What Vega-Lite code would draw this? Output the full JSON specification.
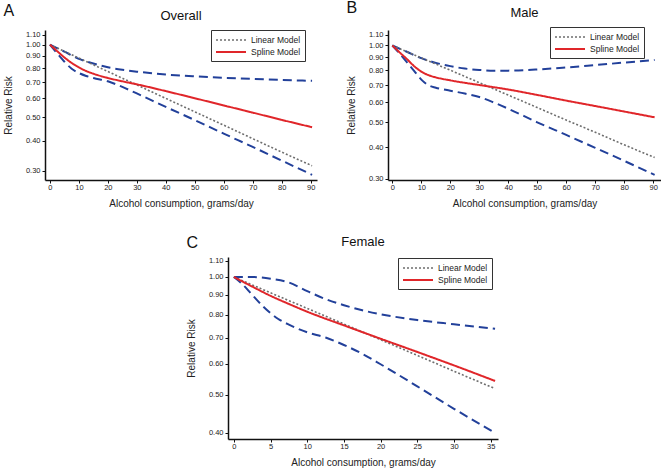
{
  "$schema": "https://vega.github.io/schema/vega-lite/v6.json",
  "padding": {"left": 3, "top": -1, "right": 0, "bottom": 0},
  "config": {
    "font": "Liberation Sans",
    "view": {"stroke": null},
    "axis": {"grid": false, "domainColor": "#111", "domainWidth": 1.5, "tickColor": "#111", "tickSize": 3, "tickWidth": 1, "labelFontSize": 7.5, "labelColor": "#222", "labelPadding": 2, "labelOverlap": false, "labelSeparation": 0, "titleFontSize": 10, "titleFontWeight": "normal", "titleColor": "#222"},
    "axisY": {"titlePadding": 12},
    "axisX": {"titlePadding": 8, "labelPadding": 0},
    "title": {"fontWeight": "normal", "color": "#111"},
    "legend": {"title": null, "strokeColor": "#333", "fillColor": "#fff", "padding": 4, "symbolType": "M-1,0H5", "symbolSize": 100, "symbolStrokeWidth": 2, "labelFontSize": 8.5, "labelOffset": 24, "rowPadding": 1, "labelColor": "#222"}
  },
  "datasets": {
    "overall": [
      {"x": 0, "rr": 1.0, "series": "Linear Model"}, {"x": 10, "rr": 0.88, "series": "Linear Model"}, {"x": 20, "rr": 0.774, "series": "Linear Model"}, {"x": 30, "rr": 0.681, "series": "Linear Model"}, {"x": 40, "rr": 0.599, "series": "Linear Model"}, {"x": 50, "rr": 0.527, "series": "Linear Model"}, {"x": 60, "rr": 0.464, "series": "Linear Model"}, {"x": 70, "rr": 0.408, "series": "Linear Model"}, {"x": 80, "rr": 0.359, "series": "Linear Model"}, {"x": 90.5, "rr": 0.315, "series": "Linear Model"},
      {"x": 0, "rr": 1.0, "series": "Spline Model"}, {"x": 2.5, "rr": 0.94, "series": "Spline Model"}, {"x": 5, "rr": 0.885, "series": "Spline Model"}, {"x": 7.5, "rr": 0.84, "series": "Spline Model"}, {"x": 10, "rr": 0.805, "series": "Spline Model"}, {"x": 12.5, "rr": 0.778, "series": "Spline Model"}, {"x": 15, "rr": 0.758, "series": "Spline Model"}, {"x": 20, "rr": 0.728, "series": "Spline Model"}, {"x": 25, "rr": 0.705, "series": "Spline Model"}, {"x": 30, "rr": 0.685, "series": "Spline Model"}, {"x": 40, "rr": 0.642, "series": "Spline Model"}, {"x": 50, "rr": 0.6, "series": "Spline Model"}, {"x": 60, "rr": 0.56, "series": "Spline Model"}, {"x": 70, "rr": 0.523, "series": "Spline Model"}, {"x": 80, "rr": 0.488, "series": "Spline Model"}, {"x": 90.5, "rr": 0.455, "series": "Spline Model"},
      {"x": 0, "rr": 1.0, "series": "Upper"}, {"x": 5, "rr": 0.935, "series": "Upper"}, {"x": 10, "rr": 0.873, "series": "Upper"}, {"x": 15, "rr": 0.835, "series": "Upper"}, {"x": 20, "rr": 0.806, "series": "Upper"}, {"x": 25, "rr": 0.787, "series": "Upper"}, {"x": 30, "rr": 0.773, "series": "Upper"}, {"x": 40, "rr": 0.752, "series": "Upper"}, {"x": 50, "rr": 0.739, "series": "Upper"}, {"x": 60, "rr": 0.729, "series": "Upper"}, {"x": 70, "rr": 0.721, "series": "Upper"}, {"x": 80, "rr": 0.714, "series": "Upper"}, {"x": 90.5, "rr": 0.708, "series": "Upper"},
      {"x": 0, "rr": 1.0, "series": "Lower"}, {"x": 2.5, "rr": 0.92, "series": "Lower"}, {"x": 5, "rr": 0.85, "series": "Lower"}, {"x": 7.5, "rr": 0.795, "series": "Lower"}, {"x": 10, "rr": 0.763, "series": "Lower"}, {"x": 12.5, "rr": 0.742, "series": "Lower"}, {"x": 15, "rr": 0.727, "series": "Lower"}, {"x": 20, "rr": 0.705, "series": "Lower"}, {"x": 25, "rr": 0.668, "series": "Lower"}, {"x": 30, "rr": 0.628, "series": "Lower"}, {"x": 40, "rr": 0.552, "series": "Lower"}, {"x": 50, "rr": 0.487, "series": "Lower"}, {"x": 60, "rr": 0.428, "series": "Lower"}, {"x": 70, "rr": 0.377, "series": "Lower"}, {"x": 80, "rr": 0.331, "series": "Lower"}, {"x": 90.5, "rr": 0.289, "series": "Lower"}
    ],
    "male": [
      {"x": 0, "rr": 1.0, "series": "Linear Model"}, {"x": 10, "rr": 0.894, "series": "Linear Model"}, {"x": 20, "rr": 0.8, "series": "Linear Model"}, {"x": 30, "rr": 0.715, "series": "Linear Model"}, {"x": 40, "rr": 0.639, "series": "Linear Model"}, {"x": 50, "rr": 0.571, "series": "Linear Model"}, {"x": 60, "rr": 0.51, "series": "Linear Model"}, {"x": 70, "rr": 0.457, "series": "Linear Model"}, {"x": 80, "rr": 0.408, "series": "Linear Model"}, {"x": 90.5, "rr": 0.364, "series": "Linear Model"},
      {"x": 0, "rr": 1.0, "series": "Spline Model"}, {"x": 2.5, "rr": 0.94, "series": "Spline Model"}, {"x": 5, "rr": 0.885, "series": "Spline Model"}, {"x": 7.5, "rr": 0.83, "series": "Spline Model"}, {"x": 10, "rr": 0.79, "series": "Spline Model"}, {"x": 12.5, "rr": 0.765, "series": "Spline Model"}, {"x": 15, "rr": 0.75, "series": "Spline Model"}, {"x": 20, "rr": 0.73, "series": "Spline Model"}, {"x": 25, "rr": 0.714, "series": "Spline Model"}, {"x": 30, "rr": 0.7, "series": "Spline Model"}, {"x": 40, "rr": 0.672, "series": "Spline Model"}, {"x": 50, "rr": 0.64, "series": "Spline Model"}, {"x": 60, "rr": 0.608, "series": "Spline Model"}, {"x": 70, "rr": 0.579, "series": "Spline Model"}, {"x": 80, "rr": 0.551, "series": "Spline Model"}, {"x": 90.5, "rr": 0.523, "series": "Spline Model"},
      {"x": 0, "rr": 1.0, "series": "Upper"}, {"x": 5, "rr": 0.945, "series": "Upper"}, {"x": 10, "rr": 0.892, "series": "Upper"}, {"x": 15, "rr": 0.855, "series": "Upper"}, {"x": 20, "rr": 0.83, "series": "Upper"}, {"x": 25, "rr": 0.812, "series": "Upper"}, {"x": 30, "rr": 0.802, "series": "Upper"}, {"x": 35, "rr": 0.797, "series": "Upper"}, {"x": 40, "rr": 0.797, "series": "Upper"}, {"x": 50, "rr": 0.805, "series": "Upper"}, {"x": 60, "rr": 0.82, "series": "Upper"}, {"x": 70, "rr": 0.838, "series": "Upper"}, {"x": 80, "rr": 0.857, "series": "Upper"}, {"x": 90.5, "rr": 0.877, "series": "Upper"},
      {"x": 0, "rr": 1.0, "series": "Lower"}, {"x": 2.5, "rr": 0.93, "series": "Lower"}, {"x": 5, "rr": 0.86, "series": "Lower"}, {"x": 7.5, "rr": 0.795, "series": "Lower"}, {"x": 10, "rr": 0.735, "series": "Lower"}, {"x": 12.5, "rr": 0.698, "series": "Lower"}, {"x": 15, "rr": 0.683, "series": "Lower"}, {"x": 20, "rr": 0.665, "series": "Lower"}, {"x": 25, "rr": 0.648, "series": "Lower"}, {"x": 30, "rr": 0.628, "series": "Lower"}, {"x": 35, "rr": 0.598, "series": "Lower"}, {"x": 40, "rr": 0.565, "series": "Lower"}, {"x": 50, "rr": 0.5, "series": "Lower"}, {"x": 60, "rr": 0.446, "series": "Lower"}, {"x": 70, "rr": 0.397, "series": "Lower"}, {"x": 80, "rr": 0.353, "series": "Lower"}, {"x": 90.5, "rr": 0.311, "series": "Lower"}
    ],
    "female": [
      {"x": 0, "rr": 1.0, "series": "Linear Model"}, {"x": 5, "rr": 0.911, "series": "Linear Model"}, {"x": 10, "rr": 0.831, "series": "Linear Model"}, {"x": 15, "rr": 0.758, "series": "Linear Model"}, {"x": 20, "rr": 0.691, "series": "Linear Model"}, {"x": 25, "rr": 0.63, "series": "Linear Model"}, {"x": 30, "rr": 0.574, "series": "Linear Model"}, {"x": 35.6, "rr": 0.518, "series": "Linear Model"},
      {"x": 0, "rr": 1.0, "series": "Spline Model"}, {"x": 2.5, "rr": 0.945, "series": "Spline Model"}, {"x": 5, "rr": 0.895, "series": "Spline Model"}, {"x": 7.5, "rr": 0.853, "series": "Spline Model"}, {"x": 10, "rr": 0.815, "series": "Spline Model"}, {"x": 15, "rr": 0.752, "series": "Spline Model"}, {"x": 20, "rr": 0.695, "series": "Spline Model"}, {"x": 25, "rr": 0.643, "series": "Spline Model"}, {"x": 30, "rr": 0.594, "series": "Spline Model"}, {"x": 35.6, "rr": 0.542, "series": "Spline Model"},
      {"x": 0, "rr": 1.0, "series": "Upper"}, {"x": 2.5, "rr": 1.0, "series": "Upper"}, {"x": 5, "rr": 0.99, "series": "Upper"}, {"x": 7.5, "rr": 0.968, "series": "Upper"}, {"x": 10, "rr": 0.92, "series": "Upper"}, {"x": 12.5, "rr": 0.878, "series": "Upper"}, {"x": 15, "rr": 0.847, "series": "Upper"}, {"x": 17.5, "rr": 0.822, "series": "Upper"}, {"x": 20, "rr": 0.803, "series": "Upper"}, {"x": 25, "rr": 0.776, "series": "Upper"}, {"x": 30, "rr": 0.757, "series": "Upper"}, {"x": 35.6, "rr": 0.737, "series": "Upper"},
      {"x": 0, "rr": 1.0, "series": "Lower"}, {"x": 1, "rr": 0.965, "series": "Lower"}, {"x": 2.5, "rr": 0.9, "series": "Lower"}, {"x": 4, "rr": 0.84, "series": "Lower"}, {"x": 5, "rr": 0.808, "series": "Lower"}, {"x": 6, "rr": 0.782, "series": "Lower"}, {"x": 7.5, "rr": 0.755, "series": "Lower"}, {"x": 10, "rr": 0.722, "series": "Lower"}, {"x": 12.5, "rr": 0.7, "series": "Lower"}, {"x": 15, "rr": 0.67, "series": "Lower"}, {"x": 17.5, "rr": 0.636, "series": "Lower"}, {"x": 20, "rr": 0.598, "series": "Lower"}, {"x": 25, "rr": 0.525, "series": "Lower"}, {"x": 30, "rr": 0.46, "series": "Lower"}, {"x": 35.6, "rr": 0.399, "series": "Lower"}
    ]
  },
  "resolve": {"scale": {"x": "independent", "y": "independent", "color": "independent", "strokeDash": "independent", "strokeWidth": "independent"}, "legend": {"color": "independent", "strokeDash": "independent"}},
  "spacing": 25,
  "vconcat": [
    {
      "spacing": 29,
      "resolve": {"scale": {"x": "independent", "y": "independent", "color": "independent", "strokeDash": "independent", "strokeWidth": "independent"}, "legend": {"color": "independent", "strokeDash": "independent"}},
      "hconcat": [
        {
          "title": {"text": "A", "anchor": "start", "frame": "bounds", "fontSize": 16, "offset": -9},
          "resolve": {"scale": {"x": "independent", "y": "independent", "color": "independent", "strokeDash": "independent", "strokeWidth": "independent"}, "legend": {"color": "independent", "strokeDash": "independent"}},
          "vconcat": [
            {
              "title": {"text": "Overall", "fontSize": 13, "offset": 7},
              "width": 272, "height": 150,
              "data": {"name": "overall"},
              "encoding": {
                "x": {"field": "x", "type": "quantitative", "scale": {"domain": [-1.7, 92.2], "nice": false, "zero": false}, "axis": {"values": [0, 10, 20, 30, 40, 50, 60, 70, 80, 90], "labelOverlap": false, "title": "Alcohol consumption, grams/day"}},
                "y": {"field": "rr", "type": "quantitative", "scale": {"type": "log", "domain": [0.275, 1.15], "nice": false}, "axis": {"values": [0.3, 0.4, 0.5, 0.6, 0.7, 0.8, 0.9, 1.0, 1.1], "labelOverlap": false, "format": ".2f", "title": "Relative Risk"}}
              },
              "layer": [
                {
                  "transform": [{"filter": {"field": "series", "oneOf": ["Lower", "Upper"]}}],
                  "mark": {"type": "line", "color": "#22409a", "strokeWidth": 2, "strokeDash": [9, 5], "interpolate": "monotone"},
                  "encoding": {"detail": {"field": "series"}}
                },
                {
                  "transform": [{"filter": {"field": "series", "oneOf": ["Linear Model", "Spline Model"]}}],
                  "mark": {"type": "line", "interpolate": "monotone"},
                  "encoding": {
                    "color": {"field": "series", "type": "nominal", "scale": {"domain": ["Linear Model", "Spline Model"], "range": ["#6e6e6e", "#e0262a"]}, "legend": {"orient": "none", "legendX": 166, "legendY": 0}},
                    "strokeDash": {"field": "series", "type": "nominal", "scale": {"domain": ["Linear Model", "Spline Model"], "range": [[2, 2], [1, 0]]}, "legend": {"orient": "none", "legendX": 166, "legendY": 0}},
                    "strokeWidth": {"field": "series", "type": "nominal", "scale": {"domain": ["Linear Model", "Spline Model"], "range": [1.6, 2]}, "legend": null}
                  }
                }
              ]
            }
          ]
        },
        {
          "title": {"text": "B", "anchor": "start", "frame": "bounds", "fontSize": 16, "offset": -9},
          "resolve": {"scale": {"x": "independent", "y": "independent", "color": "independent", "strokeDash": "independent", "strokeWidth": "independent"}, "legend": {"color": "independent", "strokeDash": "independent"}},
          "vconcat": [
            {
              "title": {"text": "Male", "fontSize": 13, "offset": 7},
              "width": 273, "height": 150,
              "data": {"name": "male"},
              "encoding": {
                "x": {"field": "x", "type": "quantitative", "scale": {"domain": [-1.5, 92.7], "nice": false, "zero": false}, "axis": {"values": [0, 10, 20, 30, 40, 50, 60, 70, 80, 90], "labelOverlap": false, "title": "Alcohol consumption, grams/day"}},
                "y": {"field": "rr", "type": "quantitative", "scale": {"type": "log", "domain": [0.297, 1.15], "nice": false}, "axis": {"values": [0.3, 0.4, 0.5, 0.6, 0.7, 0.8, 0.9, 1.0, 1.1], "labelOverlap": false, "format": ".2f", "title": "Relative Risk"}}
              },
              "layer": [
                {
                  "transform": [{"filter": {"field": "series", "oneOf": ["Lower", "Upper"]}}],
                  "mark": {"type": "line", "color": "#22409a", "strokeWidth": 2, "strokeDash": [9, 5], "interpolate": "monotone"},
                  "encoding": {"detail": {"field": "series"}}
                },
                {
                  "transform": [{"filter": {"field": "series", "oneOf": ["Linear Model", "Spline Model"]}}],
                  "mark": {"type": "line", "interpolate": "monotone"},
                  "encoding": {
                    "color": {"field": "series", "type": "nominal", "scale": {"domain": ["Linear Model", "Spline Model"], "range": ["#6e6e6e", "#e0262a"]}, "legend": {"orient": "none", "legendX": 162, "legendY": -3}},
                    "strokeDash": {"field": "series", "type": "nominal", "scale": {"domain": ["Linear Model", "Spline Model"], "range": [[2, 2], [1, 0]]}, "legend": {"orient": "none", "legendX": 162, "legendY": -3}},
                    "strokeWidth": {"field": "series", "type": "nominal", "scale": {"domain": ["Linear Model", "Spline Model"], "range": [1.6, 2]}, "legend": null}
                  }
                }
              ]
            }
          ]
        }
      ]
    },
    {
      "align": "none",
      "spacing": 0,
      "resolve": {"scale": {"x": "independent", "y": "independent", "color": "independent", "strokeDash": "independent", "strokeWidth": "independent"}, "legend": {"color": "independent", "strokeDash": "independent"}},
      "hconcat": [
        {
          "width": 141, "height": 1,
          "data": {"values": []},
          "mark": {"type": "point", "opacity": 0},
          "encoding": {}
        },
        {
          "title": {"text": "C", "anchor": "start", "frame": "bounds", "fontSize": 16, "offset": -15},
          "resolve": {"scale": {"x": "independent", "y": "independent", "color": "independent", "strokeDash": "independent", "strokeWidth": "independent"}, "legend": {"color": "independent", "strokeDash": "independent"}},
          "vconcat": [
            {
              "title": {"text": "Female", "fontSize": 13, "offset": 8},
              "width": 270, "height": 182,
              "data": {"name": "female"},
              "encoding": {
                "x": {"field": "x", "type": "quantitative", "scale": {"domain": [-0.8, 36], "nice": false, "zero": false}, "axis": {"values": [0, 5, 10, 15, 20, 25, 30, 35], "labelOverlap": false, "title": "Alcohol consumption, grams/day"}},
                "y": {"field": "rr", "type": "quantitative", "scale": {"type": "log", "domain": [0.385, 1.125], "nice": false}, "axis": {"values": [0.4, 0.5, 0.6, 0.7, 0.8, 0.9, 1.0, 1.1], "labelOverlap": false, "format": ".2f", "title": "Relative Risk"}}
              },
              "layer": [
                {
                  "transform": [{"filter": {"field": "series", "oneOf": ["Lower", "Upper"]}}],
                  "mark": {"type": "line", "color": "#22409a", "strokeWidth": 2, "strokeDash": [9, 5], "interpolate": "monotone"},
                  "encoding": {"detail": {"field": "series"}}
                },
                {
                  "transform": [{"filter": {"field": "series", "oneOf": ["Linear Model", "Spline Model"]}}],
                  "mark": {"type": "line", "interpolate": "monotone"},
                  "encoding": {
                    "color": {"field": "series", "type": "nominal", "scale": {"domain": ["Linear Model", "Spline Model"], "range": ["#6e6e6e", "#e0262a"]}, "legend": {"orient": "none", "legendX": 170, "legendY": 1}},
                    "strokeDash": {"field": "series", "type": "nominal", "scale": {"domain": ["Linear Model", "Spline Model"], "range": [[2, 2], [1, 0]]}, "legend": {"orient": "none", "legendX": 170, "legendY": 1}},
                    "strokeWidth": {"field": "series", "type": "nominal", "scale": {"domain": ["Linear Model", "Spline Model"], "range": [1.6, 2]}, "legend": null}
                  }
                }
              ]
            }
          ]
        }
      ]
    }
  ]
}
